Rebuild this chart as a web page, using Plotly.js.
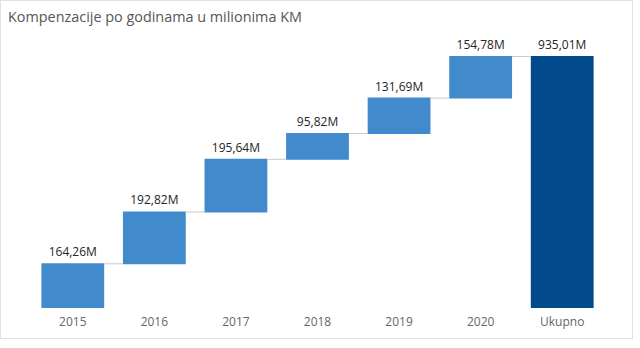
<!DOCTYPE html>
<html>
<head>
<meta charset="utf-8">
<script src="https://cdn.plot.ly/plotly-3.0.1.min.js"></script>
<style>
html,body{margin:0;padding:0;background:#fff;}
#wrap{position:relative;width:640px;height:348px;}
#frame{position:absolute;left:0;top:0;width:631px;height:337px;border:1px solid #e1e1e1;box-sizing:content-box;pointer-events:none;}
#chart{position:absolute;left:0;top:0;width:640px;height:348px;}
</style>
</head>
<body>
<div id="wrap"><div id="chart"></div><div id="frame"></div></div>
<script>
const categories = ["2015","2016","2017","2018","2019","2020","Ukupno"];
const values = [164.26, 192.82, 195.64, 95.82, 131.69, 154.78, 935.01];
const measures = ["relative","relative","relative","relative","relative","relative","total"];
const labels = values.map(v => v.toFixed(2).replace(".", ",") + "M");

const font = "'Segoe UI', 'Open Sans', sans-serif";

Plotly.newPlot("chart", [{
  type: "waterfall",
  x: categories,
  y: values,
  measure: measures,
  text: labels,
  textposition: "outside",
  textfont: {family: font, size: 12, color: "#252423"},
  cliponaxis: false,
  increasing: {marker: {color: "#418acb"}},
  totals: {marker: {color: "#014b8c"}},
  connector: {line: {color: "#c8c8c8", width: 1}},
  width: 0.77,
  hoverinfo: "none"
}], {
  width: 640, height: 348,
  margin: {l: 32, r: 37, t: 39, b: 40},
  paper_bgcolor: "#fff", plot_bgcolor: "#fff",
  showlegend: false,
  title: {text: "Kompenzacije po godinama u milionima KM", x: 0.0125, xanchor: "left", y: 0.95, yanchor: "middle",
          font: {family: font, size: 14.4, color: "#555555"}},
  xaxis: {type: "category", showgrid: false, zeroline: false, showline: false, ticks: "",
          ticklabelstandoff: 5,
          tickfont: {family: font, size: 12, color: "#666666"}},
  yaxis: {visible: false, range: [0, 1000], fixedrange: true},
  bargap: 0.23
}, {displayModeBar: false, staticPlot: true});
</script>
</body>
</html>
